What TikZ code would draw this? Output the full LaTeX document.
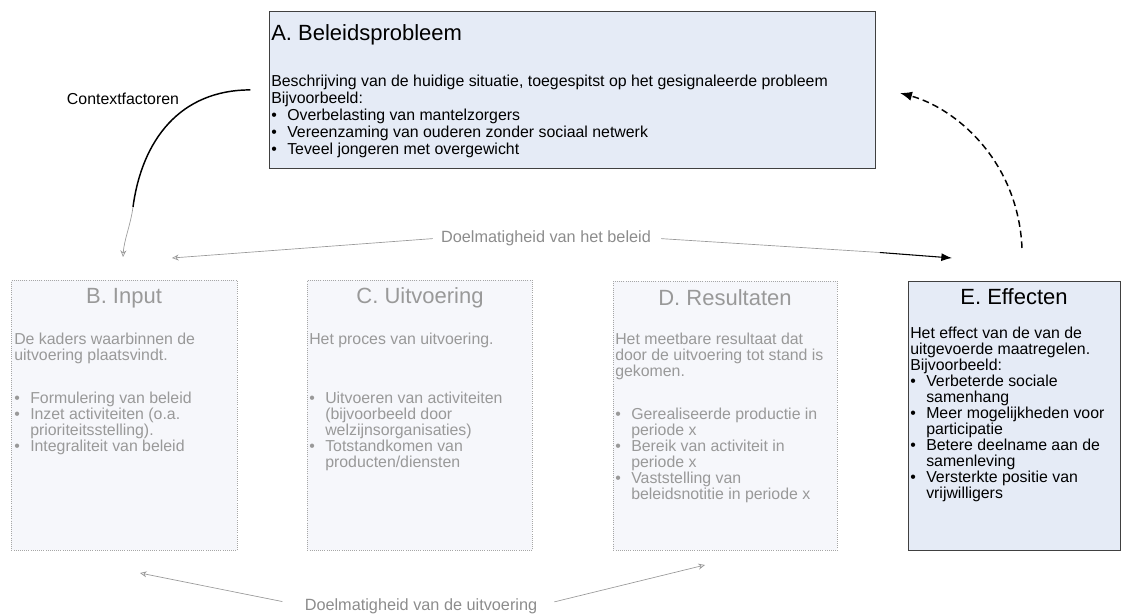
\documentclass[tikz,border=0pt]{standalone}
\usepackage{fontspec}
\setmainfont{Liberation Sans}
\usepackage{xcolor}
\usetikzlibrary{arrows.meta}
\usetikzlibrary{positioning}

\definecolor{boxblue}{RGB}{229,235,246}
\definecolor{fadeblue}{RGB}{246,247,251}
\newcommand{\blt}{\makebox[12pt][l]{\textbullet}}
\newcommand{\cnt}{\hspace*{12pt}}

\begin{document}
\begin{tikzpicture}[x=0.75pt,y=-0.75pt,
	box/.style={draw=black!75,fill=boxblue,line width=0.6pt,anchor=north west,inner sep=0pt},
	fadebox/.style={draw=black!35,densely dotted,fill=fadeblue,line width=0.6pt,anchor=north west,inner sep=0pt},
	ttl/.style={font=\fontsize{16.5}{18}\selectfont,inner sep=0pt},
	fadettl/.style={ttl,text=black!40},
	txt/.style={font=\fontsize{11.9}{12}\selectfont,align=left,inner sep=0pt,anchor=north west},
	fadetxt/.style={txt,text=black!40},
	lbl/.style={font=\fontsize{11.9}{12}\selectfont,inner sep=0pt},
	fadelbl/.style={lbl,font=\fontsize{12.2}{13}\selectfont,text=black!45},
	greyarr/.style={draw=black!40,line width=0.5pt,-{Stealth[length=5pt,width=4.5pt,open]}},
	fadeline/.style={draw=black!40,line width=0.5pt},
	blackarr/.style={draw=black,line width=0.8pt,-{Latex[length=8pt,width=6pt]}},
	dasharr/.style={draw=black,line width=1.1pt,dash pattern=on 5pt off 3pt,-{Latex[length=9pt,width=7pt]}}]
	
	\useasboundingbox (0,0) rectangle (1121,614);
	
	% A. Beleidsprobleem
	\node[box,minimum width=606*0.75pt,minimum height=157*0.75pt] (A) at (269,11) {};
	\node[ttl,anchor=base west] (Atitle) at (271,40) {A. Beleidsprobleem};
	\node[txt,font=\fontsize{11.9}{12.75}\selectfont] (Atext) at (271,75) {Beschrijving van de huidige situatie, toegespitst op het gesignaleerde probleem\\
		Bijvoorbeeld:\\
		\blt Overbelasting van mantelzorgers\\
		\blt Vereenzaming van ouderen zonder sociaal netwerk\\
		\blt Teveel jongeren met overgewicht};
	
	% B. Input
	\node[fadebox,minimum width=226*0.75pt,minimum height=270*0.75pt] (B) at (11,280) {};
	\node[fadettl] (Btitle) at (124,298) {B. Input};
	\node[fadetxt] (Btext) at (14,333) {De kaders waarbinnen de\\
		uitvoering plaatsvindt.\\[20pt]
		\blt Formulering van beleid\\
		\blt Inzet activiteiten (o.a.\\
		\cnt prioriteitsstelling).\\
		\blt Integraliteit van beleid};
	
	% C. Uitvoering
	\node[fadebox,minimum width=225*0.75pt,minimum height=270*0.75pt] (C) at (307,280) {};
	\node[fadettl] (Ctitle) at (420,298) {C. Uitvoering};
	\node[fadetxt] (Ctext) at (309,333) {Het proces van uitvoering.\\[32pt]
		\blt Uitvoeren van activiteiten\\
		\cnt (bijvoorbeeld door\\
		\cnt welzijnsorganisaties)\\
		\blt Totstandkomen van\\
		\cnt producten/diensten};
	
	% D. Resultaten
	\node[fadebox,minimum width=224*0.75pt,minimum height=269*0.75pt] (D) at (613,281) {};
	\node[fadettl] (Dtitle) at (725,298) {D. Resultaten};
	\node[fadetxt] (Dtext) at (615,333) {Het meetbare resultaat dat\\
		door de uitvoering tot stand is\\
		gekomen.\\[20pt]
		\blt Gerealiseerde productie in\\
		\cnt periode x\\
		\blt Bereik van activiteit in\\
		\cnt periode x\\
		\blt Vaststelling van\\
		\cnt beleidsnotitie in periode x};
	
	% E. Effecten
	\node[box,minimum width=212*0.75pt,minimum height=269*0.75pt] (E) at (908,281) {};
	\node[ttl] (Etitle) at (1014,297) {E. Effecten};
	\node[txt] (Etext) at (910,327) {Het effect van de van de\\
		uitgevoerde maatregelen.\\
		Bijvoorbeeld:\\
		\blt Verbeterde sociale\\
		\cnt samenhang\\
		\blt Meer mogelijkheden voor\\
		\cnt participatie\\
		\blt Betere deelname aan de\\
		\cnt samenleving\\
		\blt Versterkte positie van\\
		\cnt vrijwilligers};
	
	% labels
	\node[lbl] (ctx) at (123,99) {Contextfactoren};
	\node[fadelbl] (dbel) at (546,238) {Doelmatigheid van het beleid};
	\node[fadelbl] (duit) at (421,606) {Doelmatigheid van de uitvoering};
	
	% Contextfactoren arrow
	\coordinate (ctxs) at ([xshift=-14pt]A.west);
	\coordinate (ctxm) at (133,207);
	\coordinate (ctxe) at (123,257);
	\draw[line width=1.1pt] (ctxs) .. controls (180,90) and (142,140) .. (ctxm);
	\draw[greyarr] (ctxm) .. controls (130.6,225) and (124,240) .. (ctxe);
	
	% Doelmatigheid van het beleid
	\coordinate (bl) at (172,258);
	\coordinate (brm) at (880,252.5);
	\coordinate (br) at (952,258);
	\draw[greyarr,shorten <=6pt] (dbel.west) -- (bl);
	\draw[fadeline,shorten <=7.5pt] (dbel.east) -- (brm);
	\draw[blackarr] (brm) -- (br);
	
	% Effecten terug naar beleidsprobleem
	\coordinate (es) at (1022,248);
	\coordinate (et) at (900,93);
	\draw[dasharr] (es) .. controls (1018,160) and (955,108) .. (et);
	
	% Doelmatigheid van de uitvoering
	\coordinate (ul) at (140,573);
	\coordinate (ur) at (705,565);
	\draw[greyarr,shorten <=17pt] (duit.west) -- (ul);
	\draw[greyarr,shorten <=13pt] (duit.east) -- (ur);
	
\end{tikzpicture}
\end{document}
